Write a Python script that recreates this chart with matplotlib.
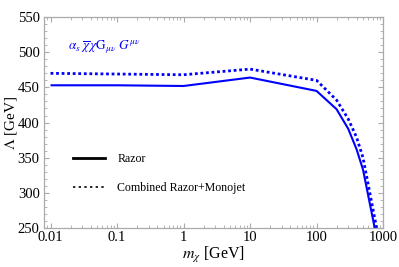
import matplotlib
matplotlib.use('Agg')
import matplotlib.pyplot as plt
from matplotlib.lines import Line2D
from matplotlib.ticker import MultipleLocator, LogLocator, NullFormatter, FixedLocator, FixedFormatter

# --- data ---
m_razor = [0.01, 0.1, 1, 10, 100, 200, 300, 400, 500, 750]
lam_razor = [453, 453, 452, 464, 445, 419, 391, 362, 333, 250]
m_comb = [0.01, 0.1, 1, 10, 100, 200, 300, 400, 500, 800]
lam_comb = [470, 469, 468, 476, 460, 432, 405, 379, 350, 250]

xticks = [0.01, 0.1, 1, 10, 100, 1000]
xticklabels = ['0.01', '0.1', '1', '10', '100', '1000']

plt.rcParams['font.family'] = ['Liberation Serif', 'DejaVu Serif']
plt.rcParams['mathtext.fontset'] = 'stix'

fig = plt.figure(figsize=(3.99, 2.67), dpi=100)
ax = fig.add_axes([0.110, 0.146, 0.850, 0.790])

ax.plot(m_razor, lam_razor, color='#0000ff', lw=1.5, solid_capstyle='butt')
ax.plot(m_comb, lam_comb, color='#0000ff', lw=2.0, linestyle=(0, (1, 1)))

ax.set_xscale('log')
ax.set_xlim(10**-2.1, 10**3.0)
ax.set_ylim(250, 550)
ax.xaxis.set_major_locator(FixedLocator(xticks))
ax.xaxis.set_major_formatter(FixedFormatter(xticklabels))
ax.xaxis.set_minor_locator(LogLocator(base=10, subs=range(2, 10)))
ax.xaxis.set_minor_formatter(NullFormatter())
ax.yaxis.set_major_locator(MultipleLocator(50))
ax.yaxis.set_minor_locator(MultipleLocator(10))

for s in ax.spines.values():
    s.set_color('#aaaaaa')
    s.set_linewidth(0.9)
ax.tick_params(which='both', direction='in', top=True, right=True,
               color='#aaaaaa', labelsize=10.5)
ax.tick_params(axis='y', pad=3)
ax.tick_params(axis='x', pad=2)
ax.tick_params(which='major', length=3.5, width=0.8)
ax.tick_params(which='minor', length=2, width=0.6)

ax.set_xlabel(r'$m_\chi$ [GeV]', fontsize=11.5, labelpad=1)
ax.set_ylabel(r'$\Lambda$ [GeV]', fontsize=11)
ax.yaxis.set_label_coords(-0.072, 0.5)

ax.text(0.071, 0.845, r'$\alpha_s\;\overline{\chi}\,\chi\mathrm{G}_{\mu\nu}\;G^{\mu\nu}$',
        transform=ax.transAxes, color='#0000ff', fontsize=9.5, va='baseline')

handles = [Line2D([], [], color='black', lw=2.0),
           Line2D([], [], color='black', lw=1.2, linestyle=(0, (1.4, 2.0)))]
ax.legend(handles, ['Razor', 'Combined Razor+Monojet'], loc='upper left',
          bbox_to_anchor=(0.086, 0.355), frameon=False, fontsize=8.6,
          borderaxespad=0, borderpad=0,
          handlelength=2.7, handletextpad=1.0, labelspacing=1.4)

fig.savefig('out.png', dpi=100)
